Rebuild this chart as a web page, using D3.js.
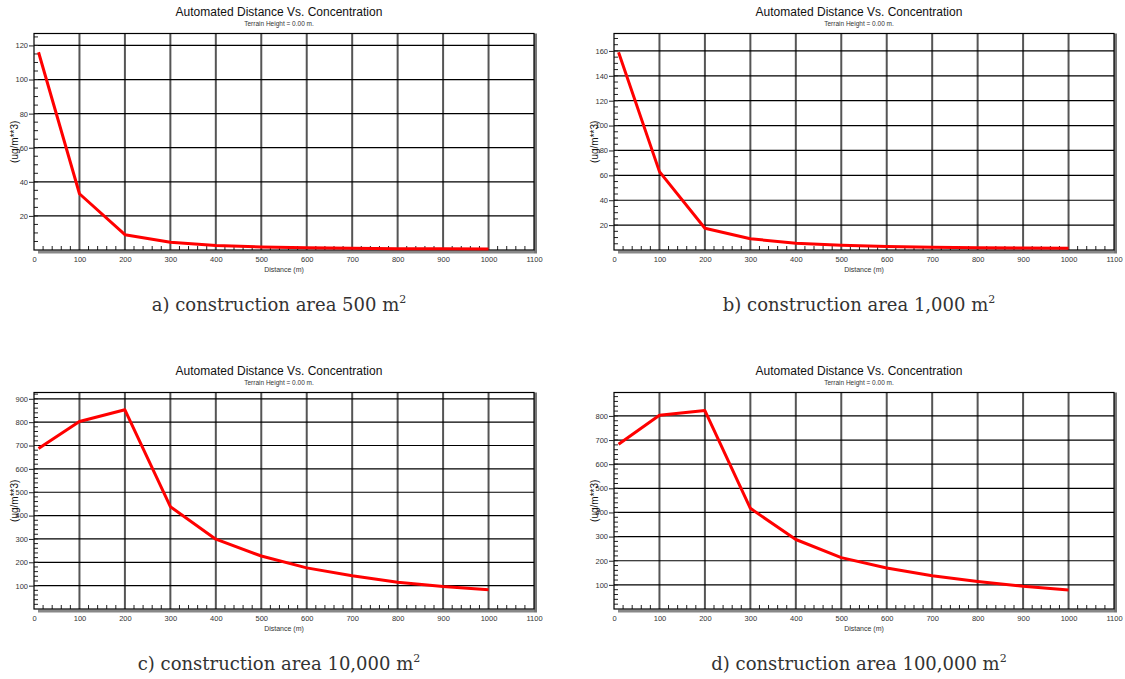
<!DOCTYPE html>
<html>
<head>
<meta charset="utf-8">
<script src="https://cdn.jsdelivr.net/npm/d3@7"></script>
<style>
  body { margin: 0; background: #fff; }
  svg { display: block; }
</style>
</head>
<body>
<div id="chart"></div>
<script>
// Distances (m) shared by all four runs
const distances = [10, 100, 200, 300, 400, 500, 600, 700, 800, 900, 1000];

// Concentrations (ug/m**3)
const concA = [116, 33, 9, 4.5, 2.7, 1.8, 1.3, 1.0, 0.8, 0.7, 0.6];
const concB = [159, 63, 17.5, 9, 5.5, 3.8, 2.9, 2.3, 1.9, 1.6, 1.4];
const concC = [687, 803, 853, 438, 299, 227, 176, 142, 115, 96, 82];
const concD = [683, 803, 822, 417, 288, 213, 170, 138, 114, 94, 79];

// Axis ticks
const xTicks = [0, 100, 200, 300, 400, 500, 600, 700, 800, 900, 1000, 1100];
const yTicksA = [20, 40, 60, 80, 100, 120];
const yTicksB = [20, 40, 60, 80, 100, 120, 140, 160];
const yTicksC = [100, 200, 300, 400, 500, 600, 700, 800, 900];
const yTicksD = [100, 200, 300, 400, 500, 600, 700, 800];

const titleText = "Automated Distance Vs. Concentration";
const subtitleText = "Terrain Height = 0.00 m.";
const captions = [
    ["a) construction area 500 m", "2"],
    ["b) construction area 1,000 m", "2"],
    ["c) construction area 10,000 m", "2"],
    ["d) construction area 100,000 m", "2"]
];

document.addEventListener("DOMContentLoaded", function () {
    const width = 1125;
    const height = 679;

    const svg = d3.select("#chart")
        .append("svg")
        .attr("width", width)
        .attr("height", height);

    const panels = [
        { ox: 0,   oy: 0,   conc: concA, yMax: 127, yTicks: yTicksA, minor: 5,  cap: captions[0] },
        { ox: 580, oy: 0,   conc: concB, yMax: 174, yTicks: yTicksB, minor: 5,  cap: captions[1] },
        { ox: 0,   oy: 359, conc: concC, yMax: 927, yTicks: yTicksC, minor: 20, cap: captions[2] },
        { ox: 580, oy: 359, conc: concD, yMax: 897, yTicks: yTicksD, minor: 20, cap: captions[3] }
    ];

    // plot box inside each panel
    const left = 34, right = 534, top = 33.5, bottom = 250;

    panels.forEach(function (p) {
        const g = svg.append("g").attr("transform", `translate(${p.ox},${p.oy})`);

        const x = d3.scaleLinear().domain([0, 1100]).range([left, right]);
        const y = d3.scaleLinear().domain([0, p.yMax]).range([bottom, top]);

        // Titles
        g.append("text")
            .attr("x", (left + right) / 2 - 5)
            .attr("y", 16)
            .attr("text-anchor", "middle")
            .attr("font-family", "Liberation Sans, Arial, sans-serif")
            .attr("font-size", "12px")
            .attr("fill", "#111")
            .text(titleText);

        g.append("text")
            .attr("x", (left + right) / 2 - 5)
            .attr("y", 26)
            .attr("text-anchor", "middle")
            .attr("font-family", "Liberation Sans, Arial, sans-serif")
            .attr("font-size", "6.5px")
            .attr("fill", "#333")
            .text(subtitleText);

        // Shadow under the x axis and along the right edge
        g.append("rect")
            .attr("x", left + 4)
            .attr("y", bottom + 0.5)
            .attr("width", right - left - 4)
            .attr("height", 3)
            .attr("fill", "#888");
        g.append("rect")
            .attr("x", right)
            .attr("y", top)
            .attr("width", 3)
            .attr("height", bottom - top + 3.5)
            .attr("fill", "#777");

        // Vertical grid lines
        g.selectAll(".vgrid")
            .data(xTicks.slice(1, -1))
            .enter()
            .append("line")
            .attr("x1", d => x(d))
            .attr("x2", d => x(d))
            .attr("y1", top)
            .attr("y2", bottom)
            .attr("stroke", "#555")
            .attr("stroke-width", 2);

        // Horizontal grid lines
        g.selectAll(".hgrid")
            .data(p.yTicks)
            .enter()
            .append("line")
            .attr("x1", left)
            .attr("x2", right)
            .attr("y1", d => y(d))
            .attr("y2", d => y(d))
            .attr("stroke", "#000")
            .attr("stroke-width", 1.2);

        // Minor ticks on x axis (inside, every 20)
        const xMinor = d3.range(20, 1100, 20).filter(d => d % 100 !== 0);
        g.selectAll(".xminor")
            .data(xMinor)
            .enter()
            .append("line")
            .attr("x1", d => x(d))
            .attr("x2", d => x(d))
            .attr("y1", bottom)
            .attr("y2", bottom - 4)
            .attr("stroke", "#222")
            .attr("stroke-width", 1);

        // Minor ticks on y axis (inside)
        const yMinor = d3.range(p.minor, p.yMax, p.minor);
        g.selectAll(".yminor")
            .data(yMinor)
            .enter()
            .append("line")
            .attr("x1", left)
            .attr("x2", left + 4)
            .attr("y1", d => y(d))
            .attr("y2", d => y(d))
            .attr("stroke", "#222")
            .attr("stroke-width", 1);

        // Frame
        g.append("rect")
            .attr("x", left)
            .attr("y", top)
            .attr("width", right - left)
            .attr("height", bottom - top)
            .attr("fill", "none")
            .attr("stroke", "#000")
            .attr("stroke-width", 1.2);

        // Axes (labels only)
        const xAxis = g.append("g")
            .attr("transform", `translate(0,${bottom})`)
            .call(d3.axisBottom(x).tickValues(xTicks).tickFormat(d3.format("d"))
                .tickSize(0).tickPadding(7));
        xAxis.select(".domain").remove();

        const yAxis = g.append("g")
            .attr("transform", `translate(${left},0)`)
            .call(d3.axisLeft(y).tickValues(p.yTicks).tickFormat(d3.format("d"))
                .tickSize(5).tickPadding(1));
        yAxis.select(".domain").remove();

        [xAxis, yAxis].forEach(function (a) {
            a.selectAll("text")
                .attr("font-family", "Liberation Sans, Arial, sans-serif")
                .attr("font-size", "7.5px")
                .attr("fill", "#333");
            a.selectAll("line").attr("stroke", "#222");
        });

        // Axis titles
        g.append("text")
            .attr("x", (left + right) / 2)
            .attr("y", 272)
            .attr("text-anchor", "middle")
            .attr("font-family", "Liberation Sans, Arial, sans-serif")
            .attr("font-size", "7px")
            .attr("fill", "#333")
            .text("Distance (m)");

        g.append("text")
            .attr("transform", `translate(18,${(top + bottom) / 2}) rotate(-90)`)
            .attr("text-anchor", "middle")
            .attr("font-family", "Liberation Sans, Arial, sans-serif")
            .attr("font-size", "10px")
            .attr("fill", "#111")
            .text("(ug/m**3)");

        // Concentration line
        const line = d3.line()
            .x((d, i) => x(distances[i]))
            .y(d => y(d));

        g.append("path")
            .datum(p.conc)
            .attr("d", line)
            .attr("fill", "none")
            .attr("stroke", "#ff0000")
            .attr("stroke-width", 3)
            .attr("stroke-linejoin", "round");

        // Caption under the chart
        const cap = g.append("text")
            .attr("x", 279)
            .attr("y", 311)
            .attr("text-anchor", "middle")
            .attr("font-family", "DejaVu Serif, serif")
            .attr("font-size", "18px")
            .attr("fill", "#333");
        cap.append("tspan").text(p.cap[0]);
        cap.append("tspan")
            .attr("dy", -8)
            .attr("font-size", "11px")
            .text(p.cap[1]);
    });
});
</script>
</body>
</html>
